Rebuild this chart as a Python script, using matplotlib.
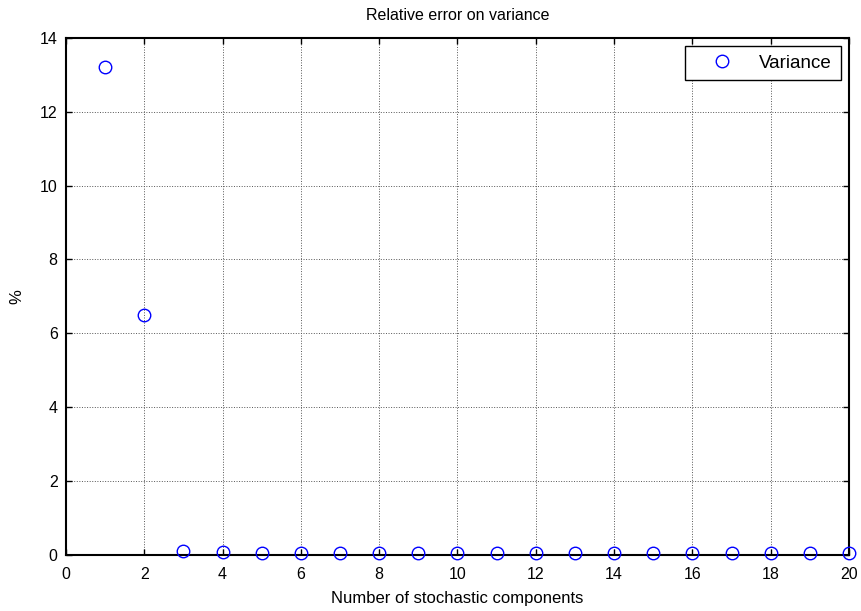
import matplotlib
matplotlib.use("Agg")
from matplotlib import pyplot as plt

plt.rcParams['font.family'] = ['Liberation Sans', 'DejaVu Sans']

# number of stochastic components and relative error on variance (%)
components = list(range(1, 21))
variance_err = [13.22, 6.5, 0.11, 0.07, 0.04, 0.04, 0.04, 0.04, 0.04, 0.04,
                0.04, 0.04, 0.04, 0.04, 0.04, 0.04, 0.04, 0.04, 0.04, 0.04]
xticks = list(range(0, 21, 2))
yticks = list(range(0, 15, 2))

fig = plt.figure(figsize=(8.61, 6.11), dpi=100)
ax = fig.add_axes([0.0767, 0.0917, 0.9093, 0.8463])

ax.plot(components, variance_err, 'o', color='blue', markerfacecolor='none',
        markersize=9, markeredgewidth=1, label='Variance', clip_on=False, zorder=3)

ax.set_xlim(0, 20)
ax.set_ylim(0, 14)
ax.set_xticks(xticks)
ax.set_yticks(yticks)
ax.tick_params(direction='in', length=4, width=1, top=True, right=True,
               labelsize=11.5)
ax.tick_params(axis='x', pad=9)
ax.tick_params(axis='y', pad=6)
for s in ax.spines.values():
    s.set_linewidth(1.5)
ax.grid(True, linestyle=':', color='#555555', linewidth=0.7)

ax.set_title('Relative error on variance', fontsize=11.5, pad=13)
ax.set_xlabel('Number of stochastic components', fontsize=12, labelpad=6)
ax.set_ylabel('%', fontsize=12, labelpad=11)

leg = ax.legend(loc='upper right', fontsize=13.5, fancybox=False, framealpha=1,
                edgecolor='black', borderaxespad=0.45, handlelength=3.05,
                handletextpad=0.45, borderpad=0.45)
leg.get_frame().set_linewidth(1)

fig.savefig('out.png', dpi=100)
